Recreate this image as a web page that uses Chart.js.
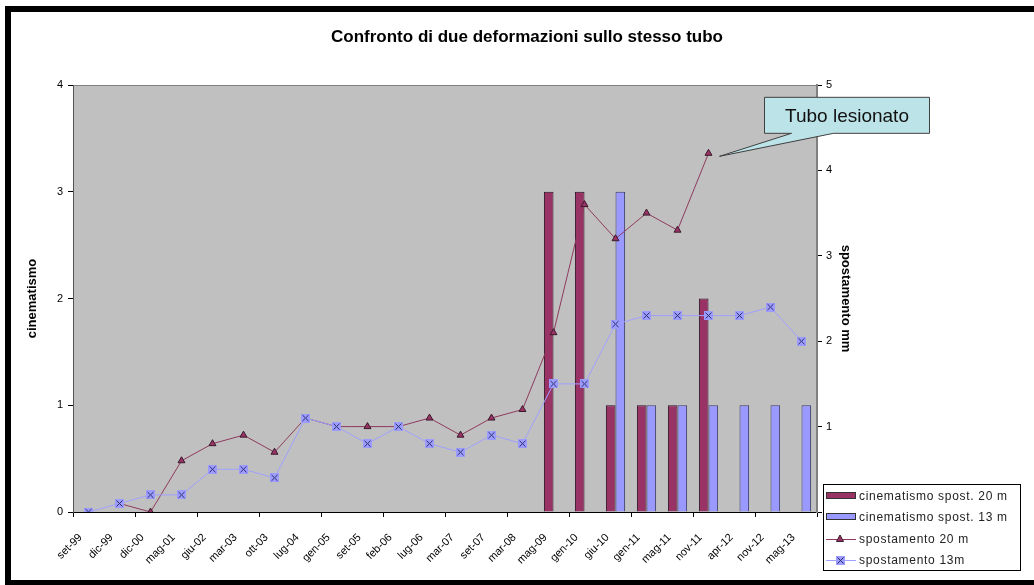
<!DOCTYPE html>
<html><head><meta charset="utf-8">
<script src="https://cdn.jsdelivr.net/npm/chart.js@4.4.1/dist/chart.umd.min.js"></script>
<style>html,body{margin:0;padding:0;background:#fff;overflow:hidden}#wrap{position:relative;width:1034px;height:585px}</style>
</head><body><div id="wrap"><canvas id="c" width="1034" height="585"></canvas></div>
<script>
const categories = ['set-99','dic-99','dic-00','mag-01','giu-02','mar-03','ott-03','lug-04','gen-05','set-05','feb-06','lug-06','mar-07','set-07','mar-08','mag-09','gen-10','giu-10','gen-11','mag-11','nov-11','apr-12','nov-12','mag-13'];
const cinematismo20 = [null,null,null,null,null,null,null,null,null,null,null,null,null,null,null,3,3,1,1,1,2,null,null,null];
const cinematismo13 = [null,null,null,null,null,null,null,null,null,null,null,null,null,null,null,null,null,3,1,1,1,1,1,1];
const spostamento20 = [null,0.1,0,0.6,0.8,0.9,0.7,1.1,1.0,1.0,1.0,1.1,0.9,1.1,1.2,2.1,3.6,3.2,3.5,3.3,4.2,null,null,null];
const spostamento13 = [0,0.1,0.2,0.2,0.5,0.5,0.4,1.1,1.0,0.8,1.0,0.8,0.7,0.9,0.8,1.5,1.5,2.2,2.3,2.3,2.3,2.3,2.4,2.0];
const leftTickLabels = ['0','1','2','3','4'];
const rightTickLabels = ['','1','2','3','4','5'];
const seriesNames = ['cinematismo spost. 20 m','cinematismo spost. 13 m','spostamento 20 m','spostamento 13m'];
const chartTitle = 'Confronto di due deformazioni sullo stesso tubo';
const calloutText = 'Tubo lesionato';

const FONT = '"Liberation Sans", Arial, sans-serif';
const MAROON = '#993366';
const BLUE = '#9999ff';

// blue square marker with X
const mk = document.createElement('canvas');
mk.width = 9; mk.height = 9;
(function(){
  const m = mk.getContext('2d');
  m.fillStyle = '#9c9cff'; m.fillRect(0,0,9,9);
  m.strokeStyle = '#2a2a66'; m.lineWidth = 1;
  m.beginPath(); m.moveTo(1.5,1.5); m.lineTo(7.5,7.5); m.moveTo(7.5,1.5); m.lineTo(1.5,7.5); m.stroke();
})();

const decor = {
  id: 'decor',
  beforeDraw(chart) {
    const {ctx, chartArea: a} = chart;
    ctx.save();
    ctx.fillStyle = '#fff';
    ctx.fillRect(0,0,chart.width,chart.height);
    ctx.fillStyle = '#c0c0c0';
    ctx.fillRect(a.left, a.top, a.right - a.left, a.bottom - a.top);
    ctx.strokeStyle = '#808080';
    ctx.lineWidth = 1;
    ctx.strokeRect(a.left + 0.5, a.top + 0.5, a.right - a.left - 1, a.bottom - a.top);
    ctx.restore();
  },
  afterDraw(chart) {
    const {ctx} = chart;
    ctx.save();
    // frame
    ctx.fillStyle = '#000';
    ctx.fillRect(5, 6, chart.width, 6);
    ctx.fillRect(5, 6, 6, chart.height);
    ctx.fillRect(5, 580, chart.width, 5);
    // title
    ctx.fillStyle = '#000';
    ctx.font = 'bold 17px ' + FONT;
    ctx.textAlign = 'center'; ctx.textBaseline = 'middle';
    ctx.fillText(chartTitle, 527, 37);

    // callout anchored at last point of spostamento20
    const meta = chart.getDatasetMeta(2);
    let idx = -1;
    spostamento20.forEach((v,i)=>{ if (v !== null) idx = i; });
    const pt = meta.data[idx];
    const L = pt.x + 56, T = pt.y - 56, W = 165, H = 36, B = T + H;
    const tipX = pt.x + 11, tipY = pt.y + 3;
    ctx.beginPath();
    ctx.moveTo(L, T); ctx.lineTo(L + W, T); ctx.lineTo(L + W, B);
    ctx.lineTo(L + 69, B); ctx.lineTo(tipX, tipY); ctx.lineTo(L + 27, B);
    ctx.lineTo(L, B); ctx.closePath();
    ctx.fillStyle = '#bce3e8'; ctx.fill();
    ctx.strokeStyle = '#404040'; ctx.lineWidth = 1; ctx.stroke();
    ctx.fillStyle = '#111';
    ctx.font = '19px ' + FONT;
    ctx.textAlign = 'center'; ctx.textBaseline = 'middle';
    ctx.fillText(calloutText, L + W/2, T + H/2 + 1);

    // legend
    const lx = 823, ly = 484, lw = 197, lh = 86;
    ctx.fillStyle = '#fff'; ctx.fillRect(lx, ly, lw, lh);
    ctx.strokeStyle = '#000'; ctx.lineWidth = 1;
    ctx.strokeRect(lx + 0.5, ly + 0.5, lw, lh);
    const rows = [496, 517, 539, 560];
    ctx.font = '12px ' + FONT;
    try { ctx.letterSpacing = '0.7px'; } catch(e) {}
    ctx.textAlign = 'left'; ctx.textBaseline = 'middle';
    chart.data.datasets.forEach((ds, i) => {
      const y = rows[i];
      if (ds.type === 'bar') {
        ctx.fillStyle = ds.backgroundColor;
        ctx.fillRect(826, y - 3, 29, 6);
        ctx.strokeStyle = '#333'; ctx.lineWidth = 1;
        ctx.strokeRect(826.5, y - 3.5, 29, 6);
      } else {
        ctx.strokeStyle = ds.borderColor; ctx.lineWidth = 1;
        ctx.beginPath(); ctx.moveTo(826, y + 0.5); ctx.lineTo(856, y + 0.5); ctx.stroke();
        if (ds.pointStyle === 'triangle') {
          ctx.fillStyle = ds.pointBackgroundColor; ctx.strokeStyle = ds.pointBorderColor;
          ctx.beginPath();
          ctx.moveTo(840, y - 4); ctx.lineTo(843.5, y + 2.5); ctx.lineTo(836.5, y + 2.5); ctx.closePath();
          ctx.fill(); ctx.stroke();
        } else {
          ctx.drawImage(mk, 836, y - 4);
        }
      }
      ctx.fillStyle = '#222';
      ctx.fillText(ds.label, 859, y + 1);
    });
    ctx.restore();
  }
};

new Chart(document.getElementById('c'), {
  data: {
    labels: categories,
    datasets: [
      { type: 'bar', label: seriesNames[0], data: cinematismo20, yAxisID: 'y', backgroundColor: MAROON, borderColor: '#2a1020', borderWidth: 1, order: 2, barPercentage: 1, categoryPercentage: 0.62 },
      { type: 'bar', label: seriesNames[1], data: cinematismo13, yAxisID: 'y', backgroundColor: BLUE, borderColor: '#3a3a6a', borderWidth: 1, order: 3, barPercentage: 1, categoryPercentage: 0.62 },
      { type: 'line', label: seriesNames[2], data: spostamento20, yAxisID: 'y1', borderColor: '#8e3a5e', borderWidth: 1, pointStyle: 'triangle', pointRadius: 4, pointBackgroundColor: MAROON, pointBorderColor: '#3a1a2a', pointBorderWidth: 1, tension: 0, spanGaps: false, order: 1 },
      { type: 'line', label: seriesNames[3], data: spostamento13, yAxisID: 'y1', borderColor: '#a0a0ff', borderWidth: 1, pointStyle: mk, pointRadius: 4.5, tension: 0, order: 0 }
    ]
  },
  options: {
    responsive: false,
    animation: false,
    layout: { padding: { top: 85, left: 0, right: 150, bottom: 0 } },
    plugins: { legend: { display: false }, title: { display: false }, tooltip: { enabled: false } },
    scales: {
      x: {
        type: 'category',
        offset: true,
        grid: { display: true, drawOnChartArea: false, drawTicks: true, tickLength: 5, offset: true,
                color: ctx => (ctx.index === undefined || ctx.index % 2 === 0) ? '#000' : 'rgba(0,0,0,0)' },
        border: { display: true, color: '#000', width: 1 },
        ticks: { autoSkip: false, minRotation: 45, maxRotation: 45, padding: 14, labelOffset: -8, color: '#000', font: { family: FONT, size: 11 } },
        afterFit: s => { s.height = 73; }
      },
      y: {
        position: 'left', min: 0, max: 4,
        grid: { drawOnChartArea: false, drawTicks: true, tickLength: 5, color: '#000' },
        border: { display: true, color: '#555', width: 1 },
        ticks: { stepSize: 1, padding: 5, color: '#000', font: { family: FONT, size: 11 },
                 callback: (v, i) => leftTickLabels[i] },
        title: { display: true, text: 'cinematismo', color: '#000', font: { family: FONT, size: 13, weight: 'bold' }, padding: { top: 25, bottom: 0 } },
        afterFit: s => { s.width = 73; }
      },
      y1: {
        position: 'right', min: 0, max: 5,
        grid: { drawOnChartArea: false, drawTicks: true, tickLength: 5, color: '#000' },
        border: { display: true, color: '#808080', width: 2 },
        ticks: { stepSize: 1, padding: 4, color: '#000', font: { family: FONT, size: 11 },
                 callback: (v, i) => rightTickLabels[i] },
        title: { display: true, text: 'spostamento mm', color: '#000', font: { family: FONT, size: 13, weight: 'bold' }, padding: { top: 31, bottom: 0 } },
        afterFit: s => { s.width = 67; }
      }
    }
  },
  plugins: [decor]
});
</script></body></html>
